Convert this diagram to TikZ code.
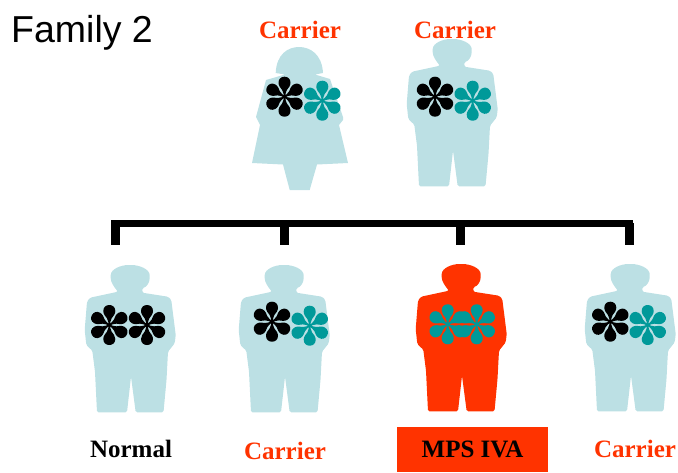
\documentclass[tikz,border=0pt]{standalone}
\usepackage{fontspec}
\setmainfont{Liberation Serif}
\newfontfamily\sansfam{Liberation Sans}
\definecolor{figblue}{HTML}{BCE0E4}
\definecolor{allelered}{HTML}{FF3300}
\definecolor{alleleteal}{HTML}{009999}
\tikzset{
    manfig/.pic={
        \fill[pic actions,rounded corners=1.5pt] (-12,26.7) .. controls (-16,22) and (-19.3,17) .. (-19.3,11.7) .. controls (-19.3,4) and (-9,0) .. (0,0) .. controls (9,0) and (19.7,4) .. (19.7,11.7) .. controls (19.7,17) and (17,22) .. (12.3,23) -- (12.3,27.7) -- (38,31.7) -- (41.3,35) -- (45.7,70) -- (44.7,78.3) -- (38,86.7) -- (36.5,115) -- (33.5,147.3) -- (5.7,147.3) -- (1,111.7) -- (-3,147.3) -- (-33,147.3) -- (-35,106.7) -- (-37.7,85.7) -- (-43.7,80) -- (-45.3,65) -- (-43,36.7) -- (-40,32.7) -- cycle;
    },
    womanfig/.pic={
        \fill[pic actions] (-23.3,26) .. controls (-22.5,7) and (-11,0) .. (0,0) .. controls (11,0) and (23,7) .. (24,26) -- (16,27.5) -- (31,32) -- (44,70) -- (44,73) -- (40,78) -- (49,116) -- (18,117.5) -- (10.7,143) -- (-9.3,143) -- (-16,117.5) -- (-47,116) -- (-39,78) -- (-43,70) -- (-33,33) -- (-14,27.5) -- cycle;
    },
    allelestar/.pic={
        \foreach \a in {30,90,150,210,270,330}
            \fill[pic actions,rotate=\a] (-1,1) -- (3,1) .. controls (6,1.3) and (7.5,3) .. (10,4.8) .. controls (11.3,5.6) and (12.8,6) .. (14,6) .. controls (18,6) and (20,3.2) .. (20,0) .. controls (20,-3.2) and (18,-6) .. (14,-6) .. controls (12.8,-6) and (11.3,-5.6) .. (10,-4.8) .. controls (7.5,-3) and (6,-1.3) .. (3,-1) -- (-1,-1) -- cycle;
    },
    carriertext/.style={text=allelered,font=\fontsize{25}{28}\selectfont\bfseries},
    normaltext/.style={text=black,font=\fontsize{25}{28}\selectfont\bfseries},
    pedline/.style={line width=7pt,line cap=butt},
    peddrop/.style={line width=9pt,line cap=butt}
}
\begin{document}
\begin{tikzpicture}[x=1pt,y=-1pt]
    \useasboundingbox (0,0) rectangle (678,472);
    \node[font=\fontsize{37.5}{40}\selectfont\sansfam,anchor=base west,inner sep=0pt] (famlabel) at (11,42) {Family 2};
    % parents
    \node[carriertext] (momlabel) at (300,30) {Carrier};
    \node[carriertext] (dadlabel) at (455,30) {Carrier};
    \pic[fill=figblue] at (299,47) {womanfig};
    \pic[fill=figblue] at (452,39) {manfig};
    \pic[fill=black] at (284.5,96.7) {allelestar};
    \pic[fill=alleleteal] at (322.3,100.7) {allelestar};
    \pic[fill=black] at (435,96.7) {allelestar};
    \pic[fill=alleleteal] at (472.7,100.7) {allelestar};
    % bracket
    \coordinate (barleft) at (111,223);
    \coordinate (barright) at (633,223);
    \draw[pedline] (barleft) -- (barright);
    \foreach \x in {115,284,460,629}{
        \coordinate (top\x) at (\x,223);
        \coordinate (end\x) at (\x,245);
        \draw[peddrop] (top\x) -- (end\x);
    }
    % children
    \pic[fill=figblue] at (130,265) {manfig};
    \pic[fill=figblue] at (284,265) {manfig};
    \pic[fill=allelered] at (461,264) {manfig};
    \pic[fill=figblue] at (630,264) {manfig};
    \pic[fill=black] at (109.3,325) {allelestar};
    \pic[fill=black] at (147,325) {allelestar};
    \pic[fill=black] at (272,321.7) {allelestar};
    \pic[fill=alleleteal] at (309.7,325.7) {allelestar};
    \pic[fill=alleleteal] at (447.7,324.3) {allelestar};
    \pic[fill=alleleteal] at (476.7,324.3) {allelestar};
    \pic[fill=black] at (610.3,321.7) {allelestar};
    \pic[fill=alleleteal] at (647.7,325) {allelestar};
    % labels
    \node[normaltext] (normlabel) at (131,449) {Normal};
    \node[carriertext] (kidtwolabel) at (285,451) {Carrier};
    \node[fill=allelered,minimum width=151pt,minimum height=45pt,inner sep=0pt,normaltext] (mpsbox) at (472.5,449.5) {MPS IVA};
    \node[carriertext] (kidfourlabel) at (635,449) {Carrier};
\end{tikzpicture}
\end{document}
